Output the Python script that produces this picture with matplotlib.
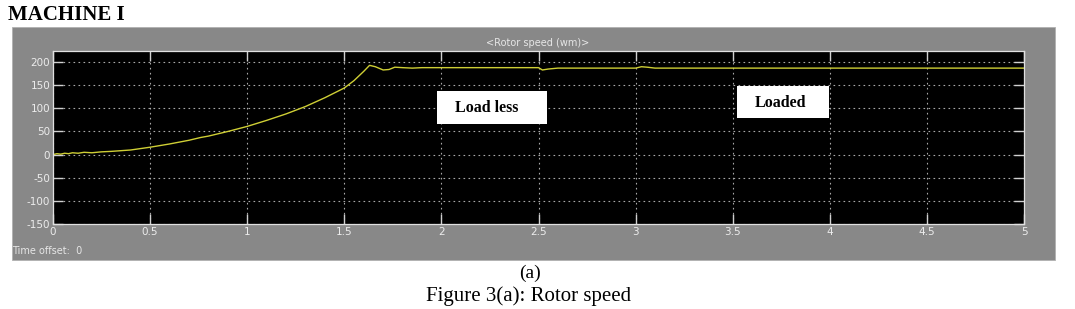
import matplotlib
matplotlib.use("Agg")
import matplotlib.pyplot as plt
from matplotlib.patches import Rectangle

# ---- data ----
time_s = [0.0, 0.02, 0.04, 0.06, 0.08, 0.1, 0.13, 0.16, 0.2, 0.25, 0.3, 0.4, 0.5, 0.6,
          0.7, 0.76, 0.8, 0.9, 1.0, 1.1, 1.2, 1.3, 1.4, 1.5, 1.55, 1.6, 1.63, 1.66,
          1.7, 1.73, 1.76, 1.8, 1.85, 1.9, 2.0, 2.3, 2.5, 2.52, 2.55, 2.6, 2.7,
          2.9, 3.0, 3.03, 3.06, 3.1, 3.2, 4.0, 5.0]
rotor_speed = [0, 2, 1, 3, 2, 4, 3, 5, 4, 6, 7, 10, 16, 23,
               31, 37, 40, 50, 61, 74, 88, 104, 123, 144, 160, 180, 193, 190,
               183, 184, 189, 188, 187, 188, 188, 188, 188, 183, 185, 187, 187,
               187, 187, 190, 189, 187, 187, 187, 187]
x_ticks = [0, 0.5, 1, 1.5, 2, 2.5, 3, 3.5, 4, 4.5, 5]
x_tick_labels = ["0", "0.5", "1", "1.5", "2", "2.5", "3", "3.5", "4", "4.5", "5"]
y_ticks = [-150, -100, -50, 0, 50, 100, 150, 200]
y_tick_labels = ["-150", "-100", "-50", "0", "50", "100", "150", "200"]
scope_title = "<Rotor speed (wm)>"
annotations = ["Load less", "Loaded"]

W, H = 1075, 309
fig = plt.figure(figsize=(W / 100, H / 100), dpi=100)
fig.patch.set_facecolor("white")


def fx(px):
    return px / W


def fy(py):
    return 1 - py / H


# grey scope panel
fig.patches.append(Rectangle((fx(12), fy(260)), fx(1055) - fx(12), fy(27) - fy(260),
                             transform=fig.transFigure, facecolor="#888888",
                             edgecolor="#b0b0b0", linewidth=0.6, zorder=-5))

ax = fig.add_axes([fx(53), fy(224), fx(1024) - fx(53), fy(51) - fy(224)])
ax.set_zorder(1)
ax.set_facecolor("black")
ax.plot(time_s, rotor_speed, color="#cfcf35", linewidth=1.0)
ax.set_xlim(0, 5)
ax.set_ylim(-150, 224)
ax.set_xticks(x_ticks)
ax.set_xticklabels(x_tick_labels)
ax.set_yticks(y_ticks)
ax.set_yticklabels(y_tick_labels)
ax.grid(True, color="#a8a8a8", linestyle=(0, (1.5, 3)), linewidth=0.8)
ax.tick_params(direction="in", length=7, width=1.0, color="#d0d0d0",
               top=True, right=True, labelcolor="#ececec", labelsize=7.5, pad=2)
for s in ax.spines.values():
    s.set_color("#e0e0e0")
    s.set_linewidth(0.9)

fig.text(fx(538), fy(43), scope_title, color="#e6e6e6", fontsize=7,
         ha="center", va="center")
fig.text(fx(12), fy(251), "Time offset:  0", color="#e6e6e6", fontsize=7,
         ha="left", va="center")

# annotation boxes
boxes = [(437, 91, 547, 124, 487, 108), (737, 86, 829, 118, 780, 103)]
for label, (x0, y0, x1, y1, tx, ty) in zip(annotations, boxes):
    fig.patches.append(Rectangle((fx(x0), fy(y1)), fx(x1) - fx(x0), fy(y0) - fy(y1),
                                 transform=fig.transFigure, facecolor="white",
                                 edgecolor="none", zorder=5))
    fig.text(fx(tx), fy(ty), label, family="Liberation Serif", fontweight="bold",
             fontsize=11.5, color="black", ha="center", va="center", zorder=6)

fig.text(fx(8), fy(15), "MACHINE I", family="Liberation Serif", fontweight="bold",
         fontsize=15, ha="left", va="center")
fig.text(fx(530), fy(273), "(a)", family="Liberation Serif", fontsize=14,
         ha="center", va="center")
fig.text(fx(529), fy(296), "Figure 3(a): Rotor speed", family="Liberation Serif",
         fontsize=15, ha="center", va="center")

fig.savefig("out.png", dpi=100, facecolor="white")
